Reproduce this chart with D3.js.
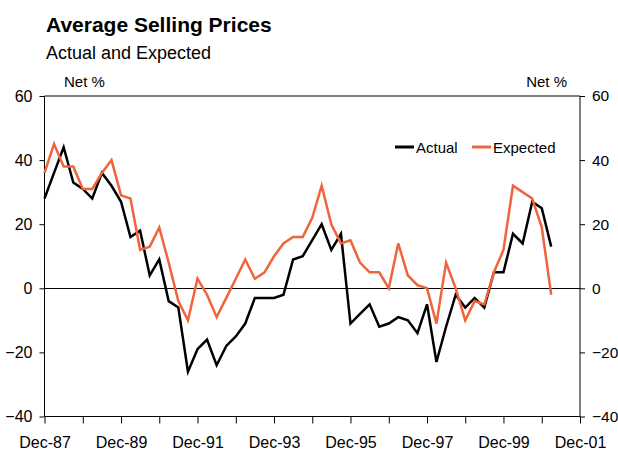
<!DOCTYPE html>
<html>
<head>
<meta charset="utf-8">
<script src="https://cdn.jsdelivr.net/npm/d3@7"></script>
<style>
  body { margin: 0; background: #fff; }
  svg { display: block; font-family: Arial, "Liberation Sans", sans-serif; }
</style>
</head>
<body>
<svg id="chart" width="618" height="453"></svg>
<script>
// quarterly survey results, Dec-87 .. Mar-01
const quarters = [
  "1987-12", "1988-03", "1988-06", "1988-09", "1988-12", "1989-03", "1989-06", "1989-09",
  "1989-12", "1990-03", "1990-06", "1990-09", "1990-12", "1991-03", "1991-06", "1991-09",
  "1991-12", "1992-03", "1992-06", "1992-09", "1992-12", "1993-03", "1993-06", "1993-09",
  "1993-12", "1994-03", "1994-06", "1994-09", "1994-12", "1995-03", "1995-06", "1995-09",
  "1995-12", "1996-03", "1996-06", "1996-09", "1996-12", "1997-03", "1997-06", "1997-09",
  "1997-12", "1998-03", "1998-06", "1998-09", "1998-12", "1999-03", "1999-06", "1999-09",
  "1999-12", "2000-03", "2000-06", "2000-09", "2000-12", "2001-03"
];
const actual = [
  28, 36, 44, 33, 31, 28, 36, 32, 27, 16, 18, 4, 9, -4, -6, -26, -19, -16, -24, -18,
  -15, -11, -3, -3, -3, -2, 9, 10, 15, 20, 12, 17, -11, -8, -5, -12, -11, -9, -10, -14,
  -5, -23, -12, -2, -6, -3, -6, 5, 5, 17, 14, 27, 25, 13
];
const expected = [
  36, 45, 38, 38, 31, 31, 36, 40, 29, 28, 12, 13, 19, 8, -4, -10, 3, -2, -9, -3,
  3, 9, 3, 5, 10, 14, 16, 16, 22, 32, 20, 14, 15, 8, 5, 5, 0, 14, 4, 1,
  0, -11, 8, 0, -10, -4, -5, 5, 12, 32, 30, 28, 19, -2
];
const yTicks = [-40, -20, 0, 20, 40, 60];
const xTickYears = d3.range(1987, 2002);
const seriesNames = ["Actual", "Expected"];
const seriesColors = ["#000000", "#f0643c"];

const parse = d3.timeParse("%Y-%m");
const dates = quarters.map(parse);

const svg = d3.select("#chart");
const plotLeft = 44.5, plotRight = 580, plotTop = 96, plotBottom = 416.5;

const x = d3.scaleTime()
  .domain([new Date(1987, 11, 1), new Date(2001, 11, 1)])
  .range([plotLeft, plotRight]);
const y = d3.scaleLinear().domain([-40, 60]).range([plotBottom, plotTop]);

// titles
svg.append("text").attr("x", 46).attr("y", 32)
  .attr("font-size", 21).attr("font-weight", "bold").text("Average Selling Prices");
svg.append("text").attr("x", 46).attr("y", 59)
  .attr("font-size", 18).text("Actual and Expected");
svg.append("text").attr("x", 64).attr("y", 87)
  .attr("font-size", 15).text("Net %");
svg.append("text").attr("x", 567).attr("y", 87).attr("text-anchor", "end")
  .attr("font-size", 15).text("Net %");

// frame: top border and zero line
svg.append("line").attr("x1", plotLeft).attr("x2", plotRight)
  .attr("y1", y(60)).attr("y2", y(60)).attr("stroke", "#000");
svg.append("line").attr("x1", plotLeft).attr("x2", plotRight)
  .attr("y1", Math.round(y(0)) + 0.5).attr("y2", Math.round(y(0)) + 0.5).attr("stroke", "#000");

// axes
const fmt = d3.timeFormat("%b-%y");
const xAxis = svg.append("g").attr("transform", `translate(0,${plotBottom})`)
  .call(d3.axisBottom(x)
    .tickValues(xTickYears.map(yr => new Date(yr, 11, 1)))
    .tickSize(7).tickPadding(13)
    .tickFormat(d => (d.getFullYear() - 1987) % 2 === 0 ? fmt(d) : ""));
const yLeft = svg.append("g").attr("transform", `translate(${plotLeft},0)`)
  .call(d3.axisLeft(y).tickValues(yTicks).tickSize(5).tickPadding(7));
const yRight = svg.append("g").attr("transform", `translate(${plotRight},0)`)
  .call(d3.axisRight(y).tickValues(yTicks).tickSize(5).tickPadding(7));

[xAxis, yLeft, yRight].forEach(g => {
  g.select(".domain").attr("stroke", "#000");
  g.selectAll(".tick line").attr("stroke", "#000");
  g.selectAll(".tick text").attr("font-size", 16).attr("fill", "#000")
    .attr("font-family", "Arial, 'Liberation Sans', sans-serif");
});
yRight.selectAll(".tick text").attr("font-size", 15.5);
yLeft.select(".domain").attr("d", `M0,${plotBottom}V${plotTop}`);
yRight.select(".domain").attr("d", `M0,${plotBottom}V${plotTop}`);
xAxis.select(".domain").attr("d", `M${plotLeft},0H${plotRight}`);

// series
const line = d3.line().x((d, i) => x(dates[i])).y(d => y(d));
[actual, expected].forEach((vals, k) => {
  svg.append("path").datum(vals)
    .attr("fill", "none")
    .attr("stroke", seriesColors[k])
    .attr("stroke-width", 2.5)
    .attr("stroke-linejoin", "miter")
    .attr("d", line);
});

// legend
const legendX = [395, 472];
seriesNames.forEach((name, k) => {
  const g = svg.append("g").attr("transform", `translate(${legendX[k]},147)`);
  g.append("line").attr("x1", 0).attr("x2", 19).attr("y1", 0).attr("y2", 0)
    .attr("stroke", seriesColors[k]).attr("stroke-width", 3);
  g.append("text").attr("x", 21).attr("y", 5.5).attr("font-size", 15).text(name);
});
</script>
</body>
</html>
